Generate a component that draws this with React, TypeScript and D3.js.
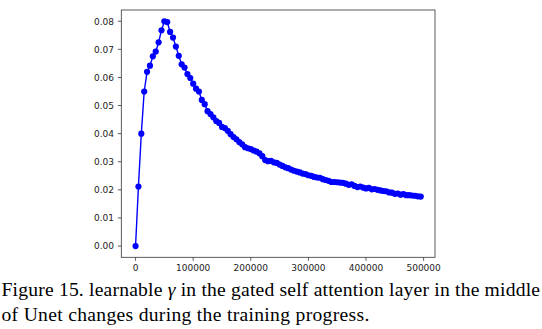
import React from "react";
import * as d3 from "d3";

const steps: number[] = Array.from({ length: 100 }, (_, i) => i * 5000);
const gammaValues: number[] = [
  0.0, 0.0212, 0.04, 0.055, 0.062, 0.0642, 0.0675, 0.0692, 0.0725, 0.0768,
  0.08, 0.0797, 0.0762, 0.0742, 0.071, 0.0677, 0.0647, 0.0635, 0.0612, 0.0598,
  0.0578, 0.056, 0.055, 0.052, 0.0505, 0.048, 0.047, 0.0458, 0.0445, 0.0438,
  0.0424, 0.042, 0.041, 0.0398, 0.0388, 0.038, 0.037, 0.0362, 0.0352, 0.0348,
  0.0345, 0.034, 0.0336, 0.033, 0.032, 0.0306, 0.0302, 0.0303, 0.0298, 0.0296,
  0.029, 0.0285, 0.028, 0.0277, 0.0272, 0.0268, 0.0265, 0.0262, 0.0258, 0.0256,
  0.0252, 0.025, 0.0246, 0.0244, 0.0243, 0.0238, 0.0235, 0.0232, 0.0228, 0.0228,
  0.0227, 0.0226, 0.0225, 0.0222, 0.0218, 0.022, 0.0214, 0.021, 0.0212, 0.0208,
  0.0205, 0.0207, 0.0202, 0.0203, 0.02, 0.0198, 0.0196, 0.0195, 0.0191, 0.019,
  0.0186, 0.0187, 0.0183, 0.0185, 0.0181, 0.0181, 0.018, 0.0179, 0.0177, 0.0176,
];
const xTicks: number[] = [0, 100000, 200000, 300000, 400000, 500000];
const yTicks: number[] = [0, 0.01, 0.02, 0.03, 0.04, 0.05, 0.06, 0.07, 0.08];
const captionPre = "Figure 15. learnable ";
const captionSymbol = "\u03b3";
const captionPost = " in the gated self attention layer in the middle";
const captionLine2 = "of Unet changes during the training progress.";

const W = 542;
const H = 329;
const plot = { left: 121.3, right: 435, top: 10, bottom: 257.3 };

export default function App() {
  const xMax = d3.max(steps) as number;
  const yMax = d3.max(gammaValues) as number;
  const x = d3
    .scaleLinear()
    .domain([-0.05 * xMax, xMax * 1.05])
    .range([plot.left, plot.right]);
  const y = d3
    .scaleLinear()
    .domain([-0.05 * yMax, yMax * 1.05])
    .range([plot.bottom, plot.top]);
  const data = steps.map((s, i) => [s, gammaValues[i]] as [number, number]);
  const line = d3
    .line<[number, number]>()
    .x((d) => x(d[0]))
    .y((d) => y(d[1]));
  const fmt = d3.format(".2f");
  const tickFont = "'DejaVu Sans', sans-serif";
  const tickSize = 9;
  const capFont = "Liberation Serif";
  return (
    <div style={{ position: "absolute", left: 0, top: 0 }}>
      <svg width={W} height={H} style={{ display: "block", background: "#fff" }}>
        <rect x={0} y={0} width={W} height={H} fill="#fff" />
        <path d={line(data) || ""} fill="none" stroke="#0000ff" strokeWidth={1.4} />
        {data.map((d, i) => (
          <circle key={i} cx={x(d[0])} cy={y(d[1])} r={3.1} fill="#0000ff" />
        ))}
        <rect
          x={plot.left}
          y={plot.top}
          width={plot.right - plot.left}
          height={plot.bottom - plot.top}
          fill="none"
          stroke="#333"
          strokeWidth={0.8}
        />
        {xTicks.map((t) => (
          <g key={t}>
            <line x1={x(t)} x2={x(t)} y1={plot.bottom} y2={plot.bottom + 3.5} stroke="#333" strokeWidth={0.8} />
            <text x={x(t)} y={270.6} textAnchor="middle" fontFamily={tickFont} fontSize={tickSize} fill="#222">
              {t}
            </text>
          </g>
        ))}
        {yTicks.map((t) => (
          <g key={t}>
            <line x1={plot.left - 3.5} x2={plot.left} y1={y(t)} y2={y(t)} stroke="#333" strokeWidth={0.8} />
            <text x={114} y={y(t) + 3.3} textAnchor="end" fontFamily={tickFont} fontSize={tickSize} fill="#222">
              {fmt(t)}
            </text>
          </g>
        ))}
        <text x={1.5} y={296.3} style={{ fontFamily: capFont }} fontSize={19.6} fill="#000" textLength={538.5} lengthAdjust="spacing">
          {captionPre}
          <tspan fontStyle="italic">{captionSymbol}</tspan>
          {captionPost}
        </text>
        <text x={1.5} y={321.3} style={{ fontFamily: capFont }} fontSize={19.6} fill="#000" textLength={367.8} lengthAdjust="spacing">
          {captionLine2}
        </text>
      </svg>
    </div>
  );
}
